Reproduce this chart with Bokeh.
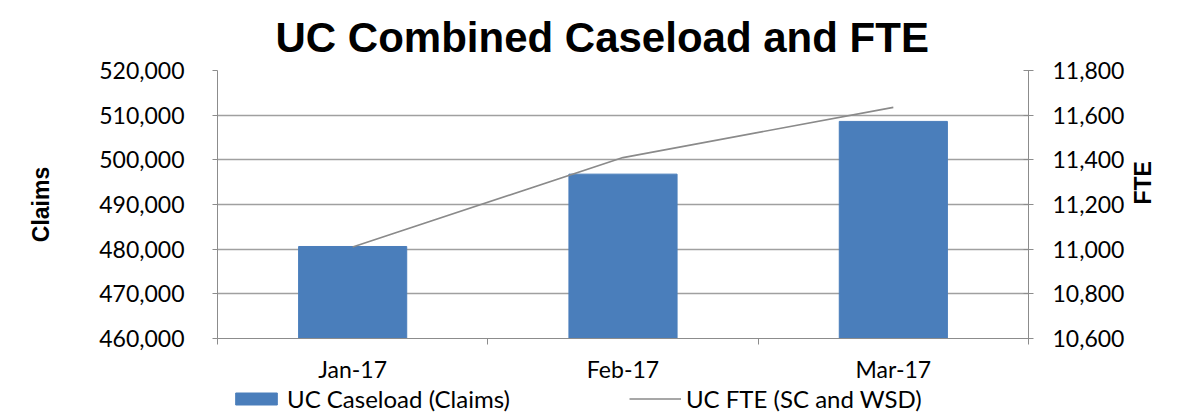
import math
from bokeh.plotting import figure
from bokeh.layouts import column
from bokeh.models import (Range1d, LinearAxis, FixedTicker, NumeralTickFormatter,
                          Legend, LegendItem, ColumnDataSource)
from bokeh.embed import file_html
from bokeh.resources import INLINE

months = ["Jan-17", "Feb-17", "Mar-17"]
caseload = [480600, 496800, 508600]
fte = [11010, 11410, 11635]
claims_ticks = [460000, 470000, 480000, 490000, 500000, 510000, 520000]
fte_ticks = [10600, 10800, 11000, 11200, 11400, 11600, 11800]
series_names = ["UC Caseload (Claims)", "UC FTE (SC and WSD)"]

xs = [i + 0.5 for i in range(len(months))]
src = ColumnDataSource(dict(x=xs, month=months, caseload=caseload, fte=fte))

TICK_FONT = "Lato"
TICK_SIZE = "23px"
BAR_COLOR = "#4a7ebb"
LINE_COLOR = "#8a8a8a"
GRID_COLOR = "#a0a0a0"
AXIS_COLOR = "#8c8c8c"
W = 1173

p = figure(width=W, height=385, output_backend="svg", toolbar_location=None,
           x_range=Range1d(0, len(months)),
           y_range=Range1d(claims_ticks[0], claims_ticks[-1]),
           min_border_left=217, min_border_right=145,
           min_border_top=70, min_border_bottom=47)
p.extra_y_ranges = {"fte": Range1d(fte_ticks[0], fte_ticks[-1])}
p.outline_line_color = None
p.background_fill_color = "white"
p.border_fill_color = "white"

# title
p.title.text = "UC Combined Caseload and FTE"
p.title.text_font = "Liberation Sans"
p.title.text_font_style = "bold"
p.title.text_font_size = "42px"
p.title.align = "left"
p.title.offset = 58
p.title.standoff = 20
p.title.text_color = "black"

# bars and line
p.vbar(x="x", top="caseload", bottom=claims_ticks[0], width=0.4, source=src,
       fill_color=BAR_COLOR, line_color=BAR_COLOR)
p.line(x="x", y="fte", source=src, y_range_name="fte",
       line_color=LINE_COLOR, line_width=1.6)

# x axis
xa = p.xaxis[0]
xa.ticker = FixedTicker(ticks=xs, minor_ticks=list(range(len(months) + 1)))
xa.major_label_overrides = {x: m for x, m in zip(xs, months)}
xa.major_tick_out = 0
xa.major_tick_in = 0
xa.minor_tick_out = 6
xa.minor_tick_in = 0
xa.axis_line_color = AXIS_COLOR
xa.minor_tick_line_color = AXIS_COLOR
xa.major_label_standoff = 10
xa.major_label_text_font = TICK_FONT
xa.major_label_text_font_size = TICK_SIZE
xa.major_label_text_color = "black"

# left axis
ya = p.yaxis[0]
ya.ticker = FixedTicker(ticks=claims_ticks)
ya.formatter = NumeralTickFormatter(format="0,0")
ya.axis_label = "Claims"
ya.axis_label_text_font = "Liberation Sans"
ya.axis_label_text_font_style = "bold"
ya.axis_label_text_font_size = "23px"
ya.axis_label_text_color = "black"
ya.axis_label_standoff = 42
ya.major_label_text_font = TICK_FONT
ya.major_label_text_font_size = TICK_SIZE
ya.major_label_text_color = "black"
ya.major_label_standoff = 28
ya.major_tick_out = 5
ya.major_tick_in = 0
ya.minor_tick_line_color = None
ya.axis_line_color = AXIS_COLOR
ya.major_tick_line_color = AXIS_COLOR

# right axis
ra = LinearAxis(y_range_name="fte", ticker=FixedTicker(ticks=fte_ticks),
                formatter=NumeralTickFormatter(format="0,0"))
ra.axis_label = "FTE"
ra.axis_label_orientation = math.pi / 2
ra.axis_label_text_font = "Liberation Sans"
ra.axis_label_text_font_style = "bold"
ra.axis_label_text_font_size = "23px"
ra.axis_label_text_color = "black"
ra.axis_label_standoff = 16
ra.major_label_text_font = TICK_FONT
ra.major_label_text_font_size = TICK_SIZE
ra.major_label_text_color = "black"
ra.major_label_standoff = 19
ra.major_tick_out = 5
ra.major_tick_in = 5
ra.minor_tick_line_color = None
ra.axis_line_color = AXIS_COLOR
ra.major_tick_line_color = AXIS_COLOR
p.add_layout(ra, "right")

# grid
p.xgrid.grid_line_color = None
p.ygrid.grid_line_color = GRID_COLOR
p.ygrid.grid_line_width = 1.3

# legend strip (separate figure so the legend sits below the axis labels);
# its renderers share the data but are hidden, so only the legend swatches show
lg = figure(width=W, height=30, output_backend="svg", toolbar_location=None,
            x_range=Range1d(0, len(months)),
            y_range=Range1d(claims_ticks[0], claims_ticks[-1]),
            min_border_left=0, min_border_right=0, min_border_top=0, min_border_bottom=0)
lg.extra_y_ranges = {"fte": Range1d(fte_ticks[0], fte_ticks[-1])}
lg.axis.visible = False
lg.grid.visible = False
lg.outline_line_color = None
lbar = lg.vbar(x="x", top="caseload", bottom=claims_ticks[0], width=0.4, source=src,
               fill_color=BAR_COLOR, line_color=BAR_COLOR, visible=False)
lline = lg.line(x="x", y="fte", source=src, y_range_name="fte",
                line_color=LINE_COLOR, line_width=1.6, visible=False)
legend = Legend(items=[LegendItem(label=series_names[0], renderers=[lbar]),
                       LegendItem(label=series_names[1], renderers=[lline])],
                orientation="horizontal", location=(13, 2),
                glyph_width=52, glyph_height=15, label_standoff=5,
                spacing=119, padding=0, margin=0, click_policy="none",
                label_text_font=TICK_FONT, label_text_font_size="24px",
                label_text_color="black", border_line_color=None,
                background_fill_alpha=0)
lg.add_layout(legend, "center")

layout = column(p, lg, spacing=0)
open("out.html", "w").write(file_html(layout, INLINE))
